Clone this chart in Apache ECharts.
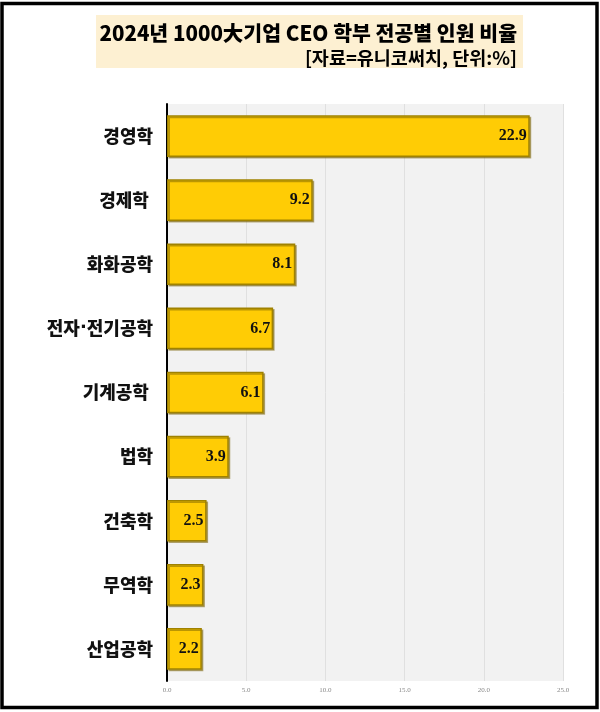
<!DOCTYPE html>
<html>
<head>
<meta charset="utf-8">
<script src="https://cdn.jsdelivr.net/npm/echarts@6/dist/echarts.min.js"></script>
<style>
html,body{margin:0;padding:0;background:#fff;}
#chart{width:600px;height:712px;}
</style>
</head>
<body>
<div id="chart"></div>
<script>
const titleText = '2024년 1000大기업 CEO 학부 전공별 인원 비율';
const subtitleText = '[자료=유니코써치, 단위:%]';
const categories = ['경영학','경제학 ','화화공학','전자·전기공학','기계공학 ','법학','건축학','무역학','산업공학'];
const values = [22.9, 9.2, 8.1, 6.7, 6.1, 3.9, 2.5, 2.3, 2.2];
const xTicks = [0, 5, 10, 15, 20, 25];

const chart = echarts.init(document.getElementById('chart'));
chart.setOption({
  backgroundColor: '#ffffff',
  animation: false,
  title: [
    {
      text: titleText,
      right: 78, top: 18,
      textStyle: {fontFamily: 'Noto Sans CJK KR', fontWeight: 900, fontSize: 20.5, color: '#000'}
    },
    {
      text: subtitleText,
      right: 78, top: 44,
      textStyle: {fontFamily: 'Noto Sans CJK KR', fontWeight: 'bold', fontSize: 18.5, color: '#000'}
    }
  ],
  graphic: [
    {type: 'rect', z: -10, shape: {x: 96, y: 15, width: 427, height: 53}, style: {fill: '#fdf0d2'}},
    {type: 'rect', z: 100, shape: {x: 2, y: 3.5, width: 595, height: 704}, style: {fill: 'none', stroke: '#000', lineWidth: 3.5}}
  ],
  grid: {left: 167, right: 37, top: 104, height: 577, show: true, backgroundColor: '#f2f2f2', borderWidth: 0, containLabel: false},
  xAxis: {
    type: 'value', min: 0, max: 25, interval: 5,
    axisLine: {show: false}, axisTick: {show: false},
    splitLine: {show: true, lineStyle: {color: '#e0e0e0', width: 1}},
    axisLabel: {fontSize: 7, color: '#888', fontFamily: 'Liberation Serif', margin: 6,
      formatter: v => xTicks.includes(v) ? v.toFixed(1) : ''}
  },
  yAxis: {
    type: 'category', data: categories, inverse: true,
    axisLine: {show: true, lineStyle: {color: '#000', width: 2}},
    axisTick: {show: false},
    axisLabel: {fontSize: 18, fontWeight: 900, color: '#111', fontFamily: 'Noto Sans CJK KR', margin: 14,
      formatter: v => v.split('·').join('{d|·}'),
      rich: {d: {fontFamily: 'DejaVu Sans', fontSize: 18, fontWeight: 'bold', color: '#111'}}}
  },
  series: [{
    type: 'bar', data: values, barCategoryGap: '35%',
    itemStyle: {color: '#ffcc05', borderColor: '#a08200', borderWidth: 1.5,
      shadowColor: 'rgba(120,95,0,0.5)', shadowBlur: 0, shadowOffsetX: 1.5, shadowOffsetY: 1.5},
    label: {show: true, position: 'insideRight', distance: 3, color: '#111',
      fontFamily: 'Liberation Serif', fontWeight: 'bold', fontSize: 16,
      formatter: p => p.value.toFixed(1)}
  }]
});
</script>
</body>
</html>
